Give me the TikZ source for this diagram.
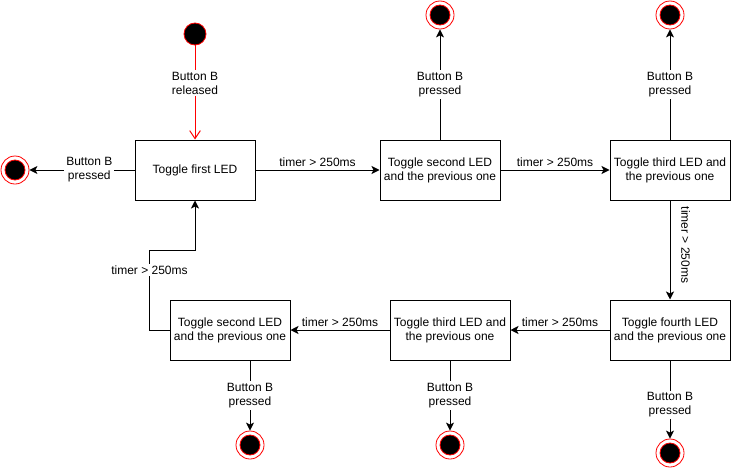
\documentclass[tikz,border=0pt]{standalone}
\usepackage{fontspec}
\setmainfont{Liberation Sans}
\usetikzlibrary{arrows.meta}

\tikzset{
  ledstate/.style={draw, line width=0.75pt, minimum width=90pt, minimum height=45pt,
    align=center, inner sep=2pt, font=\fontsize{9}{10.5}\selectfont},
  initstate/.style={circle, draw=red, fill=black, line width=0.6pt, minimum size=16.5pt, inner sep=0pt},
  endstate/.style={circle, draw=red, fill=white, line width=0.6pt, minimum size=21pt, inner sep=0pt,
    path picture={\filldraw[black, draw=red, line width=0.6pt] (path picture bounding box.center) circle (7.5pt);}},
  trans/.style={line width=0.75pt, -{Stealth[length=6pt, width=6pt, inset=1.5pt]}},
  lbl/.style={fill=white, text=black, align=center, inner sep=1.5pt, font=\fontsize{9}{10.5}\selectfont},
  toplbl/.style={align=center, inner sep=2.5pt, font=\fontsize{9}{10.5}\selectfont},
}

\begin{document}
\begin{tikzpicture}[x=0.75pt, y=-0.75pt]
\useasboundingbox (0,0) rectangle (731,471);

% States
\node[ledstate] (b1) at (195,170) {Toggle first LED};
\node[ledstate] (b2) at (440,170) {Toggle second LED\\and the previous one};
\node[ledstate] (b3) at (670,170) {Toggle third LED and\\the previous one};
\node[ledstate] (b4) at (670,330) {Toggle fourth LED\\and the previous one};
\node[ledstate] (b5) at (450,330) {Toggle third LED and\\the previous one};
\node[ledstate] (b6) at (230,330) {Toggle second LED\\and the previous one};

% Start and end points
\node[initstate] (i0) at (195,34) {};
\node[endstate] (e1) at (15,170) {};
\node[endstate] (e2) at (440,15) {};
\node[endstate] (e3) at (670,15) {};
\node[endstate] (e4) at (670,453) {};
\node[endstate] (e5) at (450,445) {};
\node[endstate] (e6) at (250,445) {};

% Start
\draw[red, line width=0.75pt, -{Straight Barb[length=6pt, width=8pt]}] (i0) -- node[lbl, pos=0.4] {Button B\\released} (b1);

% Timer transitions
\draw[trans] (b1) -- node[toplbl, above] {timer > 250ms} (b2);
\draw[trans] (b2) -- node[toplbl, above] {timer > 250ms} (b3);
\draw[trans] (b3) -- node[toplbl, pos=0.45, anchor=south, rotate=-90, inner sep=8pt] {timer > 250ms} (b4);
\draw[trans] (b4) -- node[toplbl, above] {timer > 250ms} (b5);
\draw[trans] (b5) -- node[toplbl, above] {timer > 250ms} (b6);
\draw[trans] (b6.west) -- ++(-20,0) -- node[lbl, pos=0.75] {timer > 250ms} ++(0,-80) -| (b1.south);

% Button B pressed
\draw[trans] (b1) -- node[lbl, pos=0.43] {Button B\\pressed} (e1);
\draw[trans] (b2) -- node[lbl] {Button B\\pressed} (e2);
\draw[trans] (b3) -- node[lbl] {Button B\\pressed} (e3);
\draw[trans] (b4) -- node[lbl, pos=0.57] {Button B\\pressed} (e4);
\draw[trans] (b5) -- node[lbl] {Button B\\pressed} (e5);
\draw[trans] (b6.south -| e6) -- node[lbl] {Button B\\pressed} (e6);

\end{tikzpicture}
\end{document}
